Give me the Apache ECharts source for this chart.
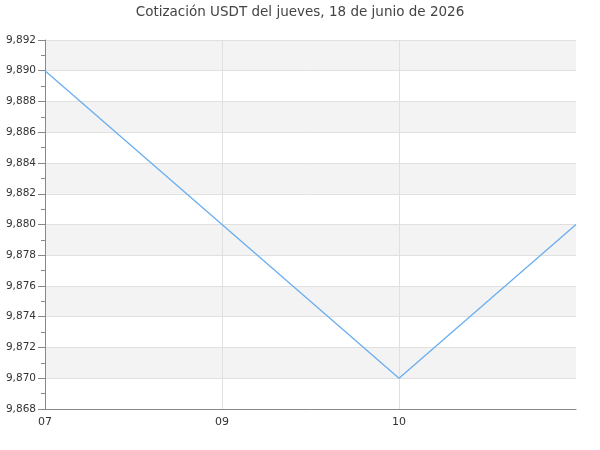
<!DOCTYPE html>
<html>
<head>
<meta charset="utf-8">
<script src="https://cdn.jsdelivr.net/npm/echarts@6/dist/echarts.min.js"></script>
<style>
html,body{margin:0;padding:0;background:#fff;}
#chart{width:600px;height:450px;}
</style>
</head>
<body>
<div id="chart"></div>
<script>
const titleText = 'Cotización USDT del jueves, 18 de junio de 2026';
const hours = ['07', '09', '10', '11'];
const prices = [9.890, 9.880, 9.870, 9.880];
const yMin = 9.868, yMax = 9.892, yStep = 0.002;

const chart = echarts.init(document.getElementById('chart'));
chart.setOption({
  animation: false,
  textStyle: { fontFamily: 'DejaVu Sans' },
  title: {
    text: titleText, left: 'center', top: 0,
    textStyle: { fontFamily: 'DejaVu Sans', fontSize: 13.5, fontWeight: 'normal', color: '#444' }
  },
  grid: { left: 45, right: 24, top: 40, bottom: 41, containLabel: false },
  xAxis: {
    type: 'category', data: hours, boundaryGap: false,
    axisLine: { lineStyle: { color: '#888' } },
    axisTick: { show: false },
    axisLabel: {
      color: '#333', fontSize: 11, margin: 8,
      interval: function (i) { return i < hours.length - 1; }
    },
    splitLine: {
      show: true,
      interval: function (i) { return i > 0 && i < hours.length - 1; },
      lineStyle: { color: '#e0e0e0' }
    }
  },
  yAxis: {
    type: 'value', min: yMin, max: yMax, interval: yStep,
    axisLine: { show: true, lineStyle: { color: '#888' } },
    axisTick: { show: true, length: 7, lineStyle: { color: '#888' } },
    minorTick: { show: true, splitNumber: 2, length: 4, lineStyle: { color: '#888' } },
    axisLabel: {
      color: '#333', fontSize: 10.5, margin: 9,
      formatter: function (v) { return v.toFixed(3).replace('.', ','); }
    },
    splitLine: { show: true, lineStyle: { color: '#e0e0e0' } },
    splitArea: { show: true, areaStyle: { color: ['#ffffff', '#f3f3f3'] } }
  },
  series: [{
    type: 'line', data: prices, showSymbol: false, symbol: 'none',
    lineStyle: { color: '#6aaef0', width: 1.3 },
    itemStyle: { color: '#6aaef0' }
  }]
});
</script>
</body>
</html>
